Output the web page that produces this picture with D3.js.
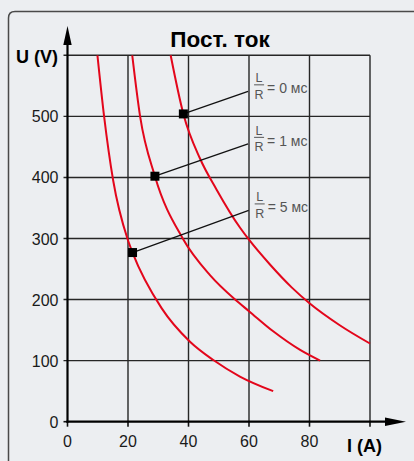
<!DOCTYPE html>
<html>
<head>
<meta charset="utf-8">
<script src="https://cdn.jsdelivr.net/npm/d3@7"></script>
<style>
  body { margin: 0; background: #eceef1; }
  svg { display: block; font-family: "Liberation Sans", Arial, sans-serif; }
</style>
</head>
<body>
<script>
// ticks
var xTicks = [0, 20, 40, 60, 80, 100];
var xTickLabels = ["0", "20", "40", "60", "80", ""];
var yTicks = [0, 100, 200, 300, 400, 500, 600];
var yTickLabels = ["0", "100", "200", "300", "400", "500", ""];

// curves, current I (A) vs voltage U (V)
var curve5ms = [[9.9,600],[12.1,500],[15.1,395],[19.8,300],[21.5,277],[31.1,186],[40.5,131],[48.2,101],[57,74],[68,50]];
var curve1ms = [[21.4,600],[24,500],[28.9,402],[38.1,300],[47.1,240],[55.4,200],[60,181],[68,148],[76.9,117.5],[83.5,100]];
var curve0ms = [[34.1,600],[38.3,504],[43.8,431],[49.3,380],[57,318],[60,298],[67,257],[74.1,220],[80,194],[90,158],[100,128]];

// L/R annotations: marker point and where the leader line ends
var labels = ["= 0 мс", "= 1 мс", "= 5 мс"];
var markers = [[38.3,504],[28.9,402],[21.5,277]];
var labelAnchors = [[59.7,541],[59.7,455],[59.9,346]];

var w = 414, h = 461;
var svg = d3.select("body").append("svg")
    .attr("width", w)
    .attr("height", h);

svg.append("rect").attr("width", w).attr("height", h).attr("fill", "#eceef1");

// frame (left + top, rounded corner)
svg.append("path")
    .attr("d", "M8.5,461 L8.5,18 Q8.5,11.5 15,11.5 L414,11.5")
    .attr("fill", "none")
    .attr("stroke", "#4a4a4a")
    .attr("stroke-width", 1.5);

var x = d3.scaleLinear().domain([0, 100]).range([67.5, 370]);
var y = d3.scaleLinear().domain([0, 600]).range([421.7, 55.3]);

// grid
svg.selectAll(".vg")
    .data(xTicks.slice(1))
    .enter().append("line")
    .attr("x1", d => x(d)).attr("x2", d => x(d))
    .attr("y1", y(0)).attr("y2", y(600))
    .attr("stroke", "#262626").attr("stroke-width", 1.4);

svg.selectAll(".hg")
    .data(yTicks.slice(1))
    .enter().append("line")
    .attr("x1", x(0) - 4).attr("x2", x(100))
    .attr("y1", d => y(d)).attr("y2", d => y(d))
    .attr("stroke", "#262626").attr("stroke-width", 1.4);

// tick marks
svg.selectAll(".xt")
    .data(xTicks)
    .enter().append("line")
    .attr("x1", d => x(d)).attr("x2", d => x(d))
    .attr("y1", y(0)).attr("y2", y(0) + 5)
    .attr("stroke", "#111").attr("stroke-width", 1.6);

svg.append("line")
    .attr("x1", x(0) - 4).attr("x2", x(0))
    .attr("y1", y(0)).attr("y2", y(0))
    .attr("stroke", "#111").attr("stroke-width", 1.6);

// tick labels
svg.selectAll(".xl")
    .data(xTicks)
    .enter().append("text")
    .attr("x", d => x(d))
    .attr("y", 446.5)
    .attr("text-anchor", "middle")
    .attr("font-size", 16)
    .attr("fill", "#1a1a1a")
    .text((d, i) => xTickLabels[i]);

svg.selectAll(".yl")
    .data(yTicks)
    .enter().append("text")
    .attr("x", 58.5)
    .attr("y", d => y(d) + 6)
    .attr("text-anchor", "end")
    .attr("font-size", 16)
    .attr("fill", "#1a1a1a")
    .text((d, i) => yTickLabels[i]);

// axes with arrows
svg.append("line")
    .attr("x1", x(0)).attr("x2", x(0))
    .attr("y1", y(0) + 1).attr("y2", 40)
    .attr("stroke", "#000").attr("stroke-width", 2.2);
svg.append("path")
    .attr("d", "M" + x(0) + ",26 L" + (x(0) + 4.2) + ",45 L" + (x(0) - 4.2) + ",45 Z")
    .attr("fill", "#000");

svg.append("line")
    .attr("x1", x(0) - 1).attr("x2", 392)
    .attr("y1", y(0)).attr("y2", y(0))
    .attr("stroke", "#000").attr("stroke-width", 2.2);
svg.append("path")
    .attr("d", "M406," + y(0) + " L385," + (y(0) - 4.2) + " L385," + (y(0) + 4.2) + " Z")
    .attr("fill", "#000");

// axis titles
svg.append("text")
    .attr("x", 58).attr("y", 63)
    .attr("text-anchor", "end")
    .attr("font-size", 18).attr("font-weight", "bold")
    .text("U (V)");

svg.append("text")
    .attr("x", 347).attr("y", 452)
    .attr("font-size", 18).attr("font-weight", "bold")
    .text("I (A)");

svg.append("text")
    .attr("x", 220).attr("y", 46.5)
    .attr("text-anchor", "middle")
    .attr("font-size", 22.5).attr("font-weight", "bold")
    .text("Пост. ток");

// curves
var line = d3.line()
    .x(d => x(d[0]))
    .y(d => y(d[1]))
    .curve(d3.curveMonotoneX);

svg.selectAll(".curve")
    .data([curve5ms, curve1ms, curve0ms])
    .enter().append("path")
    .attr("d", line)
    .attr("fill", "none")
    .attr("stroke", "#e3061b")
    .attr("stroke-width", 2);

// leader lines + markers
svg.selectAll(".leader")
    .data(markers)
    .enter().append("line")
    .attr("x1", d => x(d[0])).attr("y1", d => y(d[1]))
    .attr("x2", (d, i) => x(labelAnchors[i][0]))
    .attr("y2", (d, i) => y(labelAnchors[i][1]))
    .attr("stroke", "#111").attr("stroke-width", 1.3);

svg.selectAll(".marker")
    .data(markers)
    .enter().append("rect")
    .attr("x", d => x(d[0]) - 4.5)
    .attr("y", d => y(d[1]) - 4.5)
    .attr("width", 9).attr("height", 9)
    .attr("fill", "#000");

// L/R labels
var lab = svg.selectAll(".lab")
    .data(labelAnchors)
    .enter().append("g")
    .attr("transform", d => "translate(" + (x(d[0]) + 6) + "," + y(d[1]) + ")");

lab.append("text")
    .attr("x", 5).attr("y", -9)
    .attr("text-anchor", "middle")
    .attr("font-size", 12.5).attr("fill", "#555")
    .text("L");
lab.append("line")
    .attr("x1", 0).attr("x2", 10)
    .attr("y1", -6.5).attr("y2", -6.5)
    .attr("stroke", "#555").attr("stroke-width", 1);
lab.append("text")
    .attr("x", 5).attr("y", 7.5)
    .attr("text-anchor", "middle")
    .attr("font-size", 12.5).attr("fill", "#555")
    .text("R");
lab.append("text")
    .attr("x", 13).attr("y", 2)
    .attr("font-size", 14).attr("fill", "#555")
    .text((d, i) => labels[i]);
</script>
</body>
</html>
